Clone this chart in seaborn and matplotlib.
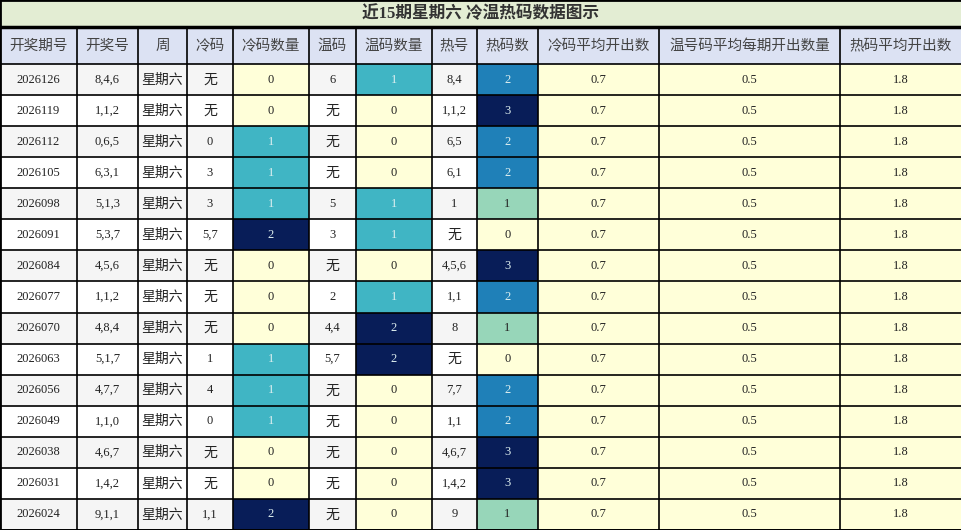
import matplotlib
matplotlib.use("Agg")
import matplotlib.pyplot as plt
import seaborn as sns
import numpy as np
import pandas as pd
from matplotlib.patches import Rectangle

sns.set_theme(style="white")
plt.rcParams['font.family'] = ['Noto Sans CJK SC', 'DejaVu Sans']

title = "近15期星期六 冷温热码数据图示"
headers = ["开奖期号", "开奖号", "周", "冷码", "冷码数量", "温码", "温码数量", "热号", "热码数", "冷码平均开出数", "温号码平均每期开出数量", "热码平均开出数"]
periods = ["2026126","2026119","2026112","2026105","2026098","2026091","2026084","2026077","2026070","2026063","2026056","2026049","2026038","2026031","2026024"]
draws = ["8,4,6","1,1,2","0,6,5","6,3,1","5,1,3","5,3,7","4,5,6","1,1,2","4,8,4","5,1,7","4,7,7","1,1,0","4,6,7","1,4,2","9,1,1"]
weekday = ["星期六"] * 15
cold = ["无","无","0","3","3","5,7","无","无","无","1","4","0","无","无","1,1"]
cold_n = [0,0,1,1,1,2,0,0,0,1,1,1,0,0,2]
warm = ["6","无","无","无","5","3","无","2","4,4","5,7","无","无","无","无","无"]
warm_n = [1,0,0,0,1,1,0,1,2,2,0,0,0,0,0]
hot = ["8,4","1,1,2","6,5","6,1","1","无","4,5,6","1,1","8","无","7,7","1,1","4,6,7","1,4,2","9"]
hot_n = [2,3,2,2,1,0,3,2,1,0,2,2,3,3,1]
cold_avg = [0.7] * 15
warm_avg = [0.5] * 15
hot_avg = [1.8] * 15

W, H = 962, 530
widths = [77,61,49,46,76,47,76,45,61,121,181,122]
edges = np.concatenate([[0], np.cumsum(widths)])
title_h, head_h = 27, 37
n = len(periods)
y0 = title_h + head_h
row_h = (H - y0) / n

fig = plt.figure(figsize=(W/100, H/100), dpi=100)
ax = fig.add_axes([0, 0, 1, 1])
ax.set_xlim(0, W); ax.set_ylim(H, 0); ax.axis('off')

cmap = sns.color_palette("YlGnBu", as_cmap=True)

ax.add_patch(Rectangle((0, 0), W, title_h, facecolor="#e3edd3", edgecolor="none"))
ax.text(W/2, title_h/2, title, ha='center', va='center', fontsize=12, fontweight='bold', color='#333333',
        family=['Liberation Serif', 'Noto Sans CJK SC'])
ax.add_patch(Rectangle((0, title_h), W, head_h, facecolor="#dce2f3", edgecolor="none"))
for j, h in enumerate(headers):
    ax.text((edges[j]+edges[j+1])/2, title_h + head_h/2, h, ha='center', va='center', fontsize=10.5, color='#444444')

text_cols = [periods, draws, weekday, cold, None, warm, None, hot, None, cold_avg, warm_avg, hot_avg]
for i in range(n):
    bg = "#f5f5f5" if i % 2 == 0 else "#ffffff"
    ax.add_patch(Rectangle((0, y0 + i*row_h), W, row_h, facecolor=bg, edgecolor="none"))
    for j in (9, 10, 11):
        ax.add_patch(Rectangle((edges[j], y0 + i*row_h), widths[j], row_h, facecolor=cmap(0.0), edgecolor="none"))
    for j, col in enumerate(text_cols):
        if col is None:
            continue
        v = str(col[i])
        cjk = any(ord(c) > 255 for c in v)
        ax.text((edges[j]+edges[j+1])/2, y0 + (i+0.5)*row_h, v, ha='center', va='center',
                fontsize=10 if cjk else 9, color='#222222',
                family=['Noto Sans CJK SC'] if cjk else ['Liberation Serif'])

for j, vals, vmax in [(4, cold_n, 2), (6, warm_n, 2), (8, hot_n, 3)]:
    hax = fig.add_axes([edges[j]/W, 0, widths[j]/W, (H - y0)/H])
    df = pd.DataFrame({"v": vals})
    sns.heatmap(df, ax=hax, cmap=cmap, vmin=0, vmax=vmax, cbar=False, annot=False,
                xticklabels=False, yticklabels=False)
    hax.axis('off')
    for i, v in enumerate(vals):
        tc = '#dff0f0' if v / vmax > 0.4 else '#222222'
        hax.text(0.5, i + 0.5, str(v), ha='center', va='center', fontsize=9, color=tc, family=['Liberation Serif'])

top = fig.add_axes([0, 0, 1, 1], facecolor='none')
top.set_xlim(0, W); top.set_ylim(H, 0); top.axis('off')
top.plot([0, W], [title_h, title_h], color='black', lw=2.5)
for k in range(n + 1):
    y = y0 + k*row_h
    top.plot([0, W], [y, y], color='black', lw=1.2)
for x in edges:
    top.plot([x, x], [title_h, H], color='black', lw=1.2)
top.plot([0, W, W, 0, 0], [0, 0, H, H, 0], color='black', lw=2)

fig.savefig("out.png", dpi=100)
